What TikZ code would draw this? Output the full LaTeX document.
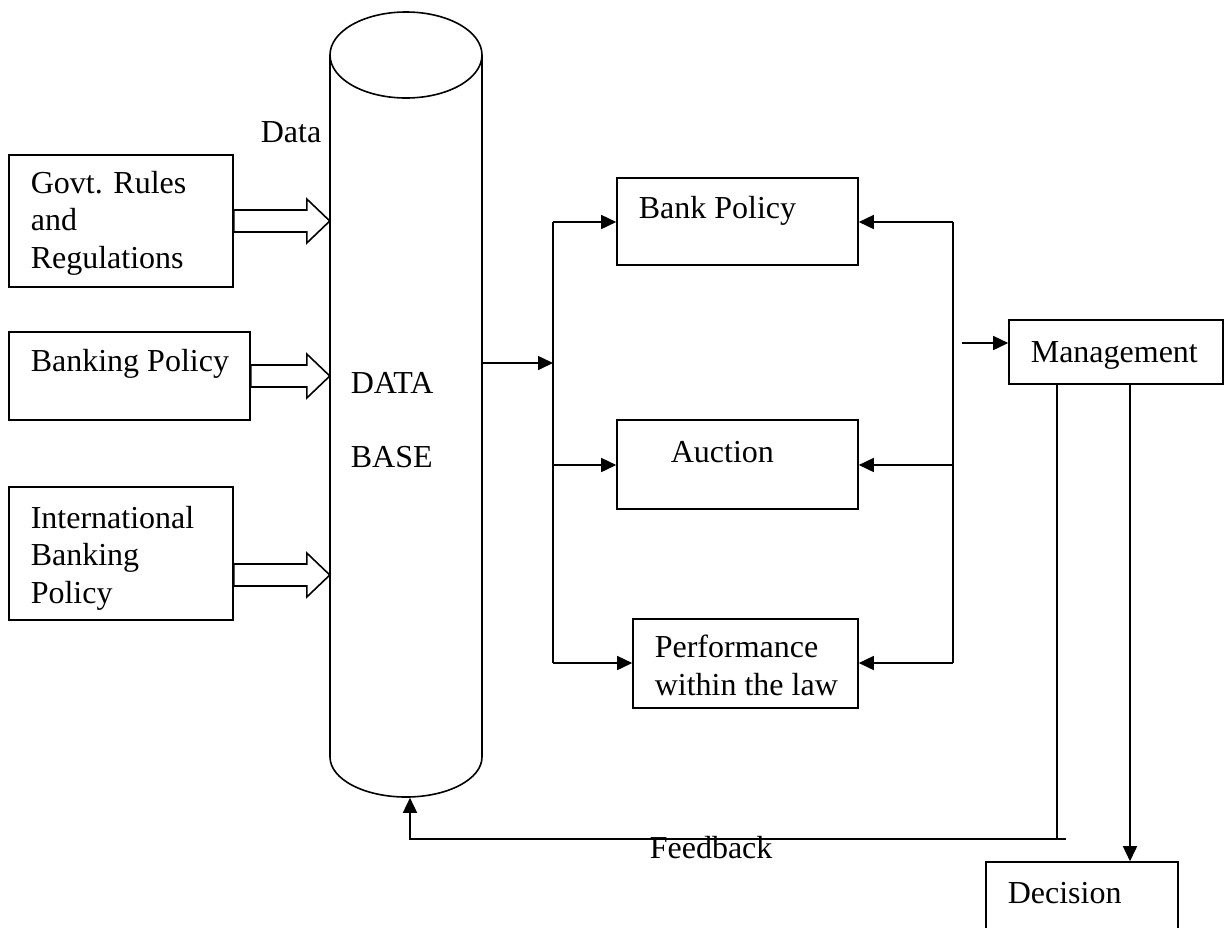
\documentclass[tikz,border=0pt]{standalone}
\usepackage{fontspec}
\setmainfont{Liberation Serif}
\usetikzlibrary{arrows.meta,positioning}

\begin{document}
\begin{tikzpicture}[x=0.5pt, y=-0.5pt, line width=0.8pt,
  font=\fontsize{16}{18.75}\selectfont,
  box/.style={draw, rectangle, inner sep=0pt},
  txt/.style={anchor=base west, inner sep=0pt, align=left},
  >={Triangle[length=7.5pt, width=7pt]}]
\useasboundingbox (0,0) rectangle (1225,927);

% Data base (cylinder)
\node[minimum width=76pt, minimum height=392.5pt, inner sep=0pt] (db) at (406,404.5) {};
\draw (330,55) -- (330,757) arc[start angle=180, end angle=0, x radius=76, y radius=40] -- (482,55);
\draw (406,55) ellipse [x radius=76, y radius=43];
\node[txt] (dbT) at (350,467) {DATA\\[18.25pt]BASE};
\node[txt] (dataT) at (260,142) {Data};

% Input boxes
\node[box, minimum width=112pt, minimum height=66pt] (govt) at (121,221) {};
\node[txt] (govtT) at (30,268) {Govt. Rules\\and\\Regulations};
\node[box, minimum width=120.5pt, minimum height=44pt] (banking) at (129.5,376) {};
\node[txt] (bankingT) at (30,371) {Banking Policy};
\node[box, minimum width=112pt, minimum height=66.5pt] (intl) at (121,553.5) {};
\node[txt] (intlT) at (30,603) {International\\Banking\\Policy};

% Output boxes
\node[box, minimum width=120.5pt, minimum height=43.5pt] (bank) at (737.5,221.5) {};
\node[txt] (bankT) at (638,218) {Bank Policy};
\node[box, minimum width=120.5pt, minimum height=44.5pt] (auction) at (737.5,464.5) {};
\node[txt] (auctionT) at (670,462) {Auction};
\node[box, minimum width=112.5pt, minimum height=44.5pt] (perf) at (745.5,663.5) {};
\node[txt] (perfT) at (654,695) {Performance\\within the law};
\node[box, minimum width=107pt, minimum height=32pt] (mgmt) at (1116,352) {};
\node[txt] (mgmtT) at (1030,362) {Management};
\node[box, minimum width=96pt, minimum height=60pt] (decision) at (1082,922) {};
\node[txt] (decisionT) at (1007,903) {Decision};

% Hollow arrows into the data base
\coordinate (in1) at (330,221);
\coordinate (in2) at (330,376);
\coordinate (in3) at (330,575);
\draw (govt.east |- in1) ++(0,-11) -- ++(73,0) -- ++(0,-11) -- ++(23,22) -- ++(-23,22) -- ++(0,-11) -- ++(-73,0) -- cycle;
\draw (banking.east |- in2) ++(0,-11) -- ++(56,0) -- ++(0,-11) -- ++(23,22) -- ++(-23,22) -- ++(0,-11) -- ++(-56,0) -- cycle;
\draw (intl.east |- in3) ++(0,-11) -- ++(73,0) -- ++(0,-11) -- ++(23,22) -- ++(-23,22) -- ++(0,-11) -- ++(-73,0) -- cycle;

% Edges
\coordinate (lt) at (553,222);
\coordinate (lm) at (553,465);
\coordinate (lb) at (553,663);
\coordinate (rt) at (953,222);
\coordinate (rm) at (953,465);
\coordinate (rb) at (953,663);
\draw[->] (db.east |- 0,363) -- (553,363);
\draw (lt) -- (lb);
\draw[->] (lt) -- (lt -| bank.west);
\draw[->] (lm) -- (lm -| auction.west);
\draw[->] (lb) -- (lb -| perf.west);
\draw (rt) -- (rb);
\draw[->] (rt) -- (rt -| bank.east);
\draw[->] (rm) -- (rm -| auction.east);
\draw[->] (rb) -- (rb -| perf.east);

% Management, decision and feedback
\coordinate (mIn) at (962,343);
\draw[->] (mIn) -- (mIn -| mgmt.west);
\coordinate (fb) at (1057,839);
\coordinate (fbEnd) at (1066,839);
\coordinate (dArr) at (1130,0);
\draw (mgmt.south -| fb) -- (fb);
\draw[->] (fbEnd) -| ([xshift=2pt]db.south);
\draw[->] (mgmt.south -| dArr) -- (decision.north -| dArr);
\node[txt] (fbT) at (649,858) {Feedback};

\end{tikzpicture}
\end{document}
